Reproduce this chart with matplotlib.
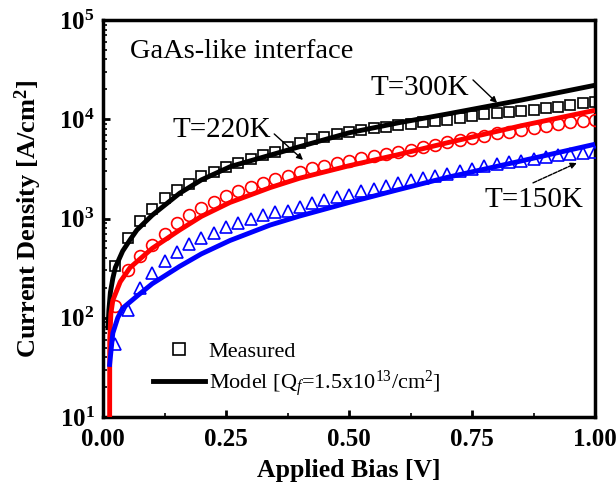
import numpy as np
import matplotlib
matplotlib.use("Agg")
import matplotlib.pyplot as plt
from matplotlib.ticker import FixedLocator, LogLocator, FuncFormatter, NullFormatter

plt.rcParams["font.family"] = "Liberation Serif"
plt.rcParams["mathtext.fontset"] = "custom"
plt.rcParams["mathtext.rm"] = "Liberation Serif"
plt.rcParams["mathtext.it"] = "Liberation Serif:italic"
plt.rcParams["mathtext.bf"] = "Liberation Serif:bold"

# dane pomiarowe
bias_meas = [0.025, 0.05, 0.075, 0.1, 0.125, 0.15, 0.175, 0.2, 0.225, 0.25,
             0.275, 0.3, 0.325, 0.35, 0.375, 0.4, 0.425, 0.45, 0.475, 0.5,
             0.525, 0.55, 0.575, 0.6, 0.625, 0.65, 0.675, 0.7, 0.725, 0.75,
             0.775, 0.8, 0.825, 0.85, 0.875, 0.9, 0.925, 0.95, 0.975, 1.0]

meas_300K = [330, 640, 950, 1250, 1600, 1950, 2250, 2650, 2950, 3300,
             3650, 3950, 4350, 4700, 5200, 5800, 6300, 6700, 7100, 7450,
             7800, 8150, 8450, 8750, 9000, 9300, 9600, 9900, 10400, 10900,
             11300, 11600, 11800, 12000, 12400, 12900, 13300, 14000, 14600, 15000]

meas_220K = [130, 300, 420, 540, 700, 900, 1090, 1280, 1470, 1680,
             1900, 2100, 2300, 2500, 2700, 2950, 3200, 3400, 3600, 3800,
             4050, 4300, 4500, 4700, 4950, 5200, 5500, 5850, 6150, 6500,
             6850, 7200, 7500, 7800, 8200, 8600, 9000, 9300, 9600, 9850]

meas_150K = [55, 120, 200, 280, 370, 460, 550, 630, 710, 820,
             900, 990, 1080, 1150, 1200, 1300, 1420, 1530, 1640, 1740,
             1880, 2000, 2150, 2300, 2420, 2550, 2680, 2800, 3000, 3150,
             3350, 3550, 3700, 3800, 4000, 4200, 4350, 4500, 4600, 4700]

# krzywe modelu
bias_300K = [0.010, 0.012, 0.015, 0.02, 0.025, 0.04, 0.055, 0.069, 0.1, 0.156,
             0.2, 0.26, 0.34, 0.4, 0.5, 0.6, 0.7, 0.85, 1.0]
model_300K = [75, 120, 180, 250, 320, 470, 610, 767, 1080, 1800,
              2450, 3350, 4350, 5300, 7300, 9200, 11300, 15600, 22000]

bias_220K = [0.0135, 0.0137, 0.016, 0.02, 0.035, 0.055, 0.1, 0.156, 0.2, 0.258,
             0.34, 0.4, 0.5, 0.6, 0.7, 0.85, 1.0]
model_220K = [8, 60, 110, 150, 230, 320, 500, 767, 1050, 1450,
              2050, 2550, 3400, 4400, 5800, 8600, 12300]

bias_150K = [0.013, 0.016, 0.02, 0.03, 0.04, 0.069, 0.1, 0.156, 0.2, 0.258,
             0.34, 0.4, 0.5, 0.6, 0.7, 0.85, 1.0]
model_150K = [32, 45, 70, 100, 125, 165, 220, 330, 440, 600,
              860, 1060, 1450, 1950, 2600, 3800, 5600]

fig = plt.figure(figsize=(6.16, 4.87), dpi=100)
ax = fig.add_axes([103 / 616, 70 / 487, 492 / 616, 397 / 487])

ax.plot(bias_meas, meas_300K, ls="none", marker="s", ms=7.5, mfc="none",
        mec="black", mew=1.2, zorder=3)
ax.plot(bias_meas, meas_220K, ls="none", marker="o", ms=8.5, mfc="none",
        mec="red", mew=1.2, zorder=3)
ax.plot(bias_meas, meas_150K, ls="none", marker="^", ms=8.5, mfc="none",
        mec="blue", mew=1.2, zorder=3)

ax.plot(bias_300K, model_300K, color="black", lw=3.5, solid_capstyle="butt", zorder=4)
ax.plot(bias_220K, model_220K, color="red", lw=3.5, solid_capstyle="butt", zorder=4)
ax.plot(bias_150K, model_150K, color="blue", lw=3.5, solid_capstyle="butt", zorder=4)

ax.set_yscale("log")
ax.set_xlim(0, 1.0)
ax.set_ylim(10, 1e5)

ax.xaxis.set_major_locator(FixedLocator([0, 0.25, 0.5, 0.75, 1.0]))
ax.xaxis.set_minor_locator(FixedLocator([0.125, 0.375, 0.625, 0.875]))
ax.xaxis.set_major_formatter(FuncFormatter(lambda v, p: f"{v:.2f}"))
ax.yaxis.set_major_locator(LogLocator(base=10, numticks=10))
ax.yaxis.set_minor_locator(LogLocator(base=10, subs=np.arange(2, 10), numticks=10))
ax.yaxis.set_major_formatter(FuncFormatter(lambda v, p: r"$\mathbf{10^{%d}}$" % round(np.log10(v))))
ax.yaxis.set_minor_formatter(NullFormatter())

ax.tick_params(which="both", direction="in", top=False, right=False)
ax.tick_params(which="major", length=5, width=2, labelsize=18)
ax.tick_params(axis="x", which="major", pad=8)
ax.tick_params(axis="y", which="major", pad=6)
ax.tick_params(which="minor", length=3, width=1.2)
for lab in ax.get_xticklabels() + ax.get_yticklabels():
    lab.set_fontweight("bold")
for s in ax.spines.values():
    s.set_linewidth(2.5)

ax.set_xlabel("Applied Bias [V]", fontsize=18.5, fontweight="bold", labelpad=6)
ax.set_ylabel(r"Current Density [A/cm$^{\mathbf{2}}$]", fontsize=19,
              fontweight="bold", labelpad=11)

ax.text(0.055, 47600, "GaAs-like interface", fontsize=20.5, va="center")

arrow = dict(arrowstyle="-|>", color="black", lw=1, shrinkA=0, shrinkB=0,
             mutation_scale=9)
ax.text(0.543, 20650, "T=300K", fontsize=21, va="center")
ax.annotate("", xy=(0.801, 14600), xytext=(0.752, 24900), arrowprops=arrow)
ax.text(0.142, 7800, "T=220K", fontsize=21, va="center")
ax.annotate("", xy=(0.4065, 3890), xytext=(0.348, 7110), arrowprops=arrow)
ax.text(0.776, 1540, "T=150K", fontsize=21, va="center")
ax.annotate("", xy=(0.963, 3630), xytext=(0.874, 2285),
            arrowprops=dict(arrow, ls=(0, (3, 1))))

ax.legend(handles=[
    plt.Line2D([], [], ls="none", marker="s", ms=8, mfc="none", mec="black", mew=1.2),
    plt.Line2D([], [], color="black", lw=3.5)],
    labels=["Measured", r"Model [Q$_f$=1.5x10$^{13}$/cm$^2$]"],
    loc="lower left", bbox_to_anchor=(0.102, 0.045), frameon=False, fontsize=16,
    handlelength=2.35, handletextpad=0.15, labelspacing=0.3,
    borderpad=0, borderaxespad=0)

fig.savefig("out.png", dpi=100)
